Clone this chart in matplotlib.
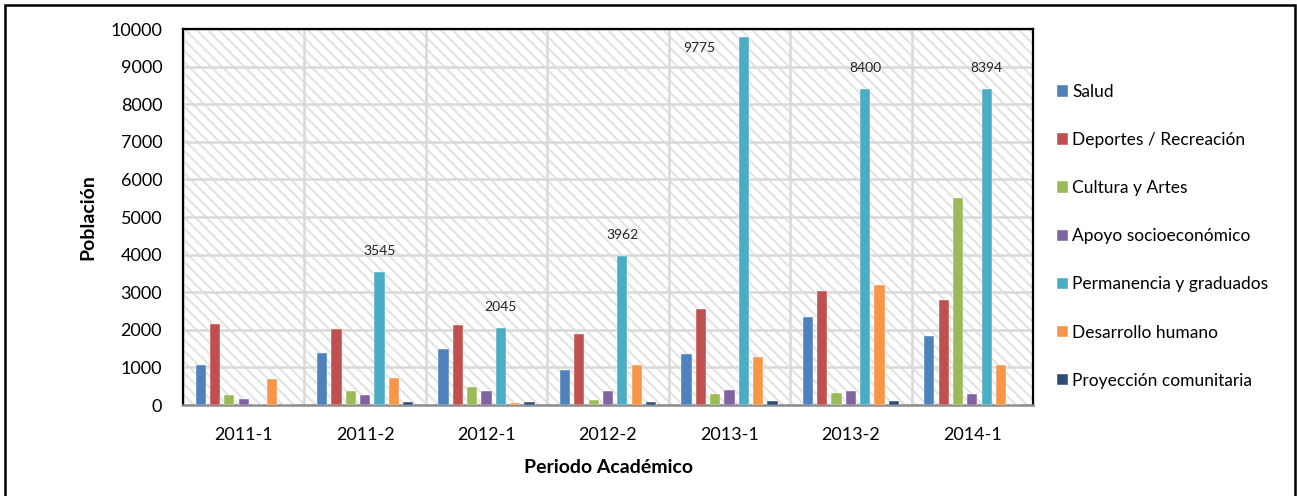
import matplotlib
matplotlib.use("Agg")
import matplotlib.pyplot as plt
from matplotlib.patches import Rectangle
import numpy as np

plt.rcParams['font.family'] = ['Lato', 'DejaVu Sans']

periodos = ["2011-1", "2011-2", "2012-1", "2012-2", "2013-1", "2013-2", "2014-1"]
series = ["Salud", "Deportes / Recreación", "Cultura y Artes", "Apoyo socioeconómico",
          "Permanencia y graduados", "Desarrollo humano", "Proyección comunitaria"]

salud = [1070, 1380, 1495, 935, 1365, 2350, 1835]
deportes = [2150, 2020, 2140, 1900, 2540, 3030, 2805]
cultura = [260, 385, 490, 135, 280, 330, 5500]
apoyo = [155, 270, 380, 375, 400, 365, 295]
permanencia = [0, 3545, 2045, 3962, 9775, 8400, 8394]
desarrollo = [700, 730, 55, 1070, 1285, 3190, 1070]
proyeccion = [0, 90, 80, 90, 100, 100, 0]

valores = [salud, deportes, cultura, apoyo, permanencia, desarrollo, proyeccion]
colores = ["#4F81BD", "#C0504D", "#9BBB59", "#8064A2", "#4BACC6", "#F79646", "#2C4D75"]

# data labels shown on Permanencia bars (label-centre offsets in pixels: dx, dy upward)
label_offsets = {1: (0, 21), 2: (0, 21), 3: (0, 21), 4: (-44, -11), 5: (0, 21), 6: (0, 21)}

W, H = 1297, 496
fig = plt.figure(figsize=(W / 100, H / 100), dpi=100)
ax = fig.add_axes([183 / W, (H - 405) / H, (1033 - 183) / W, (405 - 29) / H])

# hatched background
plt.rcParams['hatch.linewidth'] = 1.6
bg = Rectangle((0, 0), 1, 1, transform=ax.transAxes, facecolor="white",
               edgecolor="#E4E4E4", hatch="\\\\\\", linewidth=0, zorder=0)
ax.add_patch(bg)

x = np.arange(len(periodos))
pitch = 0.118
bw = 0.084
for i, (name, vals, c) in enumerate(zip(series, valores, colores)):
    ax.bar(x + (i - 3) * pitch, vals, width=bw, color=c, label=name, zorder=3,
           edgecolor="white", linewidth=0.3)

for idx, (dx, dy) in label_offsets.items():
    v = permanencia[idx]
    ax.annotate(str(v), xy=(x[idx] + pitch, v), xytext=(dx * 0.72, dy * 0.72),
                textcoords="offset points", ha="center", va="center", fontsize=10,
                color="#222222", zorder=5)

ax.set_xlim(-0.5, len(periodos) - 0.5)
ax.set_ylim(0, 10000)
ax.set_yticks(np.arange(0, 10001, 1000))
ax.set_xticks(np.arange(-0.5, len(periodos), 1), minor=False)
ax.set_xticklabels([])
ax.set_xticks(x, minor=True)
ax.set_xticklabels(periodos, minor=True)
ax.tick_params(axis="x", which="both", length=0)
ax.tick_params(axis="x", which="minor", labelsize=13, pad=15.5)
ax.tick_params(axis="y", length=0, labelsize=13, pad=15)
ax.grid(True, which="major", color="#D9D9D9", linewidth=1.8, zorder=1)
ax.set_axisbelow(True)

for s in ["top", "left", "right"]:
    ax.spines[s].set_color("black")
    ax.spines[s].set_linewidth(1.6)
ax.spines["bottom"].set_color("#8C8C8C")
ax.spines["bottom"].set_linewidth(1.8)

ax.set_ylabel("Población", fontsize=14, fontweight="bold", labelpad=10)
ax.set_xlabel("Periodo Académico", fontsize=14, fontweight="bold", labelpad=12)

leg = fig.legend(loc="upper left", bbox_to_anchor=(1050 / W, 1 - 77 / H), frameon=False,
                 fontsize=12.5, handlelength=0.63, handleheight=0.63, handletextpad=0.25,
                 labelspacing=1.85, borderaxespad=0)

fig.patches.append(Rectangle((5 / W, -0.02), (1295 - 5) / W, 1 - 5 / H + 0.02,
                             transform=fig.transFigure, fill=False, edgecolor="black",
                             linewidth=1.8))

fig.savefig("out.png", dpi=100)
